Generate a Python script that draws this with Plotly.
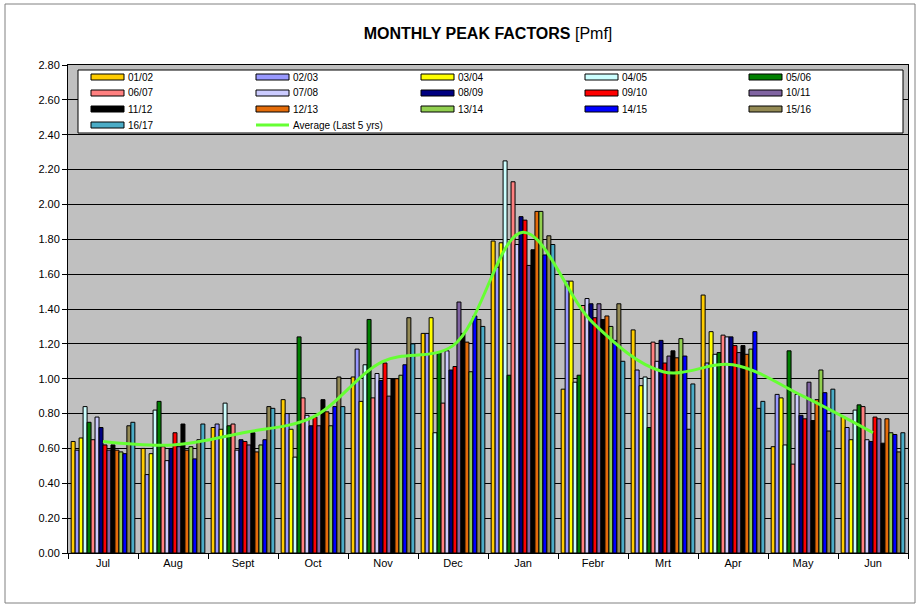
import plotly.graph_objects as go

# ── data ────────────────────────────────────────────────────────────────────
MONTHS = ["Jul", "Aug", "Sept", "Oct", "Nov", "Dec", "Jan", "Febr", "Mrt", "Apr", "May", "Jun"]

SEASONS = ["01/02", "02/03", "03/04", "04/05", "05/06", "06/07", "07/08", "08/09",
           "09/10", "10/11", "11/12", "12/13", "13/14", "14/15", "15/16", "16/17"]

pmf_0102 = [0.64, 0.60, 0.72, 0.88, 1.01, 1.26, 1.79, 0.94, 1.28, 1.48, 0.61, 0.78]
pmf_0203 = [0.59, 0.45, 0.74, 0.80, 1.17, 1.26, 1.64, 1.56, 1.05, 1.09, 0.91, 0.72]
pmf_0304 = [0.66, 0.57, 0.71, 0.71, 0.87, 1.35, 1.78, 1.56, 0.96, 1.27, 0.89, 0.65]
pmf_0405 = [0.84, 0.82, 0.86, 0.55, 1.08, 0.69, 2.25, 0.98, 1.01, 1.14, 0.62, 0.82]
pmf_0506 = [0.75, 0.87, 0.73, 1.24, 1.34, 1.15, 1.02, 1.02, 0.72, 1.15, 1.16, 0.85]
pmf_0607 = [0.65, 0.61, 0.74, 0.89, 0.89, 0.86, 2.13, 1.42, 1.21, 1.25, 0.51, 0.84]
pmf_0708 = [0.78, 0.53, 0.59, 0.79, 1.03, 1.16, 1.77, 1.46, 1.10, 1.24, 0.91, 0.65]
pmf_0809 = [0.72, 0.60, 0.65, 0.73, 0.99, 1.05, 1.93, 1.43, 1.22, 1.24, 0.79, 0.64]
pmf_0910 = [0.62, 0.69, 0.64, 0.78, 1.09, 1.07, 1.91, 1.35, 1.09, 1.19, 0.77, 0.78]
pmf_1011 = [0.59, 0.61, 0.62, 0.73, 0.90, 1.44, 1.65, 1.43, 1.13, 1.15, 0.98, 0.77]
pmf_1112 = [0.62, 0.74, 0.69, 0.88, 1.00, 1.26, 1.74, 1.34, 1.16, 1.19, 0.76, 0.63]
pmf_1213 = [0.59, 0.59, 0.58, 0.81, 1.00, 1.21, 1.96, 1.36, 1.12, 1.14, 0.88, 0.77]
pmf_1314 = [0.58, 0.61, 0.62, 0.73, 1.02, 1.04, 1.96, 1.30, 1.23, 1.17, 1.05, 0.69]
pmf_1415 = [0.57, 0.54, 0.65, 0.84, 1.08, 1.36, 1.71, 1.22, 1.13, 1.27, 0.92, 0.68]
pmf_1516 = [0.73, 0.65, 0.84, 1.01, 1.35, 1.34, 1.82, 1.43, 0.71, 0.83, 0.70, 0.58]
pmf_1617 = [0.75, 0.74, 0.83, 0.84, 1.20, 1.30, 1.77, 1.10, 0.97, 0.87, 0.94, 0.69]

AVERAGE_LAST5 = [0.64, 0.62, 0.69, 0.78, 1.10, 1.19, 1.84, 1.32, 1.04, 1.08, 0.90, 0.69]

SERIES = [pmf_0102, pmf_0203, pmf_0304, pmf_0405, pmf_0506, pmf_0607, pmf_0708, pmf_0809,
          pmf_0910, pmf_1011, pmf_1112, pmf_1213, pmf_1314, pmf_1415, pmf_1516, pmf_1617]

COLORS = ["#FFCC00", "#9999FF", "#FFFF00", "#CCFFFF", "#008000", "#FF8080", "#CCCCFF", "#000080",
          "#FF0000", "#8064A2", "#000000", "#E46C0A", "#92D050", "#0000FF", "#948A54", "#4BACC6"]

AVG_COLOR = "#66FF33"
FONT = "Liberation Sans, Arial, sans-serif"

# plot area in pixels (921x605 canvas)
L, R, T, B = 68, 908, 65, 553


def px(x):
    return (x - L) / (R - L)


def py(y):
    return (B - y) / (B - T)


fig = go.Figure()

for name, vals, col in zip(SEASONS, SERIES, COLORS):
    fig.add_trace(go.Bar(
        name=name, x=MONTHS, y=vals,
        marker=dict(color=col, line=dict(color="#000000", width=1)),
        showlegend=False,
    ))

fig.add_trace(go.Scatter(
    name="Average (Last 5 yrs)", x=MONTHS, y=AVERAGE_LAST5,
    mode="lines", line=dict(color=AVG_COLOR, width=3, shape="spline", smoothing=1),
    showlegend=False,
))

# ── hand-drawn legend box (Excel style swatches) ────────────────────────────
shapes = [
    # outer chart border
    dict(type="rect", xref="paper", yref="paper",
         x0=px(5), x1=px(915), y0=py(603), y1=py(4),
         line=dict(color="#808080", width=1), fillcolor="rgba(0,0,0,0)", layer="below"),
    # legend frame
    dict(type="rect", xref="paper", yref="paper",
         x0=px(78), x1=px(903), y0=py(133), y1=py(70),
         line=dict(color="#000000", width=1), fillcolor="#FFFFFF"),
]
annotations = []
col_x = [91, 256, 421, 585, 749]
row_y = [77, 93, 109, 125]
legend_items = list(zip(SEASONS, COLORS)) + [("Average (Last 5 yrs)", None)]
for i, (name, col) in enumerate(legend_items):
    cx = col_x[i % 5]
    ry = row_y[i // 5]
    if col is None:
        shapes.append(dict(type="line", xref="paper", yref="paper",
                           x0=px(cx), x1=px(cx + 33), y0=py(ry), y1=py(ry),
                           line=dict(color=AVG_COLOR, width=3)))
    else:
        shapes.append(dict(type="rect", xref="paper", yref="paper",
                           x0=px(cx), x1=px(cx + 33), y0=py(ry + 3), y1=py(ry - 3),
                           line=dict(color="#000000", width=1), fillcolor=col))
    annotations.append(dict(xref="paper", yref="paper", x=px(cx + 35), y=py(ry),
                            text=name, showarrow=False, xanchor="left", yanchor="middle",
                            font=dict(family=FONT, size=10, color="#000000")))

fig.update_layout(
    width=921, height=605,
    margin=dict(l=L, r=921 - R, t=T, b=605 - B),
    paper_bgcolor="#FFFFFF",
    plot_bgcolor="#C0C0C0",
    barmode="group", bargap=0.09, bargroupgap=0,
    title=dict(text="<b>MONTHLY PEAK FACTORS</b> [Pmf]", x=0.5, xref="paper",
               y=1 - 33 / 605, yanchor="middle",
               font=dict(family=FONT, size=16, color="#000000")),
    font=dict(family=FONT, size=11, color="#000000"),
    xaxis=dict(type="category", showgrid=False, ticks="outside", ticklen=5,
               tickson="boundaries", tickcolor="#000000",
               showline=True, linecolor="#000000", mirror=True,
               tickfont=dict(family=FONT, size=11)),
    yaxis=dict(range=[0, 2.8], dtick=0.2, tickformat=".2f",
               showgrid=True, gridcolor="#000000", gridwidth=1,
               ticks="outside", ticklen=5, tickcolor="#000000",
               showline=True, linecolor="#000000", mirror=True,
               zeroline=False, tickfont=dict(family=FONT, size=11)),
    shapes=shapes,
    annotations=annotations,
    showlegend=False,
)

fig.write_html(
    "out.html",
    config={"displayModeBar": False},
    post_script="document.body.style.margin='0';document.body.style.overflow='hidden';",
)
